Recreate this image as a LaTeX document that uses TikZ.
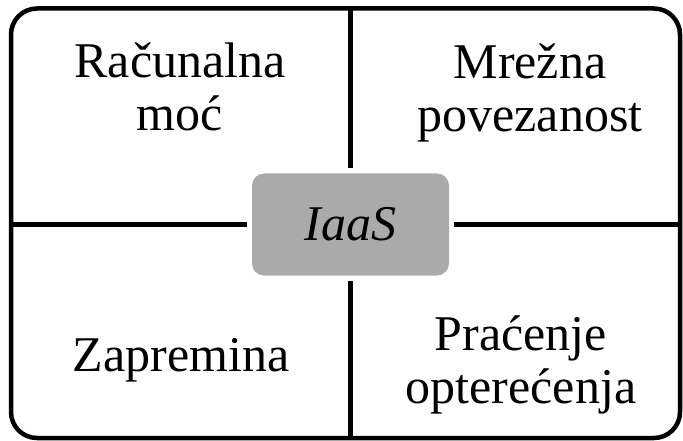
\documentclass[tikz,border=0pt]{standalone}
\usepackage{fontspec}
\setmainfont{Liberation Serif}
\definecolor{boxGray}{HTML}{AAAAAA}
\begin{document}
\begin{tikzpicture}
[x=1pt,y=-1pt,
  frameDecorate/.style={draw,line width=4.5pt,rounded corners=26pt},
  lineDecorate/.style={-,line width=4.5pt},
  centerDecorate/.style={shape=rectangle,rounded corners=12pt,fill=boxGray,
    minimum width=197pt,minimum height=102pt,outer sep=5pt,
    font={\fontsize{50}{53}\selectfont\itshape}},
  textDecorate/.style={align=center,inner sep=0pt,font={\fontsize{50}{53}\selectfont}}]
\useasboundingbox (0,0) rectangle (683,441);
%% frame
\draw[frameDecorate] (11,8.5) rectangle (680,438);
%% frame points
\foreach \nodename/\x/\y in {
  top/350.5/8.5, bottom/350.5/438, left/11/224.5, right/680/224.5}
{
  \coordinate (\nodename) at (\x,\y);
}
\node (iaas) at (350.5,224.5) [centerDecorate] {IaaS};
%% quadrants
\foreach \nodename/\x/\y/\txt in {
  compute/180/87/{Računalna\\moć},
  network/530/92.5/{Mrežna\\povezanost},
  storage/181/360.5/{Zapremina},
  monitor/521/365/{Praćenje\\opterećenja}}
{
  \node (\nodename) at (\x,\y) [textDecorate] {\txt};
}
%% dividers
\path
\foreach \startnode/\endnode in {
  top/north, bottom/south, left/west, right/east}
{
  (\startnode) edge[lineDecorate] (iaas.\endnode)
};
\end{tikzpicture}
\end{document}
